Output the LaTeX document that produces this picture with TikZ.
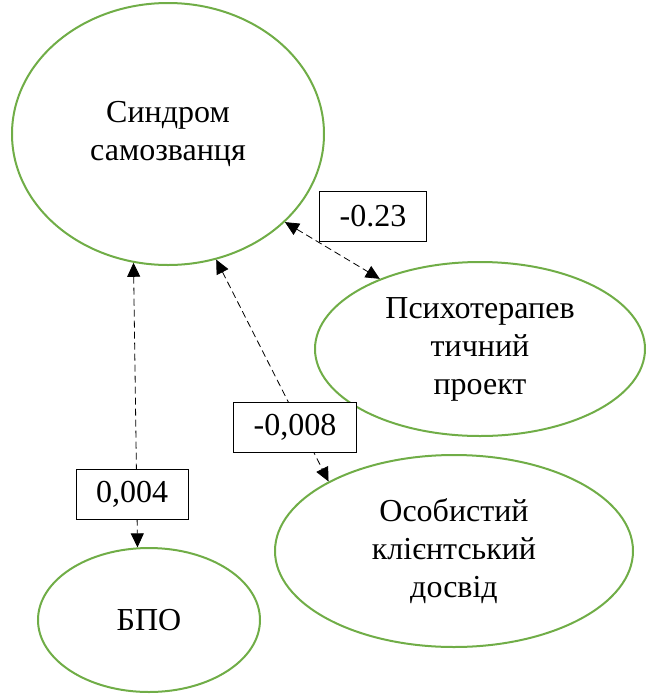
\documentclass[tikz,border=0pt]{standalone}
\usepackage{fontspec}
\setmainfont{Liberation Serif}
\usetikzlibrary{shapes.geometric,arrows.meta}
\definecolor{factorgreen}{RGB}{112,173,71}

\begin{document}
\begin{tikzpicture}[x=1pt,y=-1pt,
  factor/.style={ellipse,draw=factorgreen,line width=2pt,inner sep=0pt,align=center,font=\fontsize{32}{38}\selectfont},
  coef/.style={draw,fill=white,line width=0.8pt,inner xsep=20pt,minimum height=50pt,font=\fontsize{32}{36}\selectfont},
  link/.style={dash pattern=on 7pt off 4pt,line width=0.8pt,{Triangle[length=14pt,width=13pt]}-{Triangle[length=14pt,width=13pt]}}]
  \useasboundingbox (0,0) rectangle (654,694);

  \node[factor,minimum width=312pt,minimum height=262pt] (syn) at (168,134) {Синдром\\самозванця};
  \node[factor,minimum width=330pt,minimum height=174pt] (psy) at (480,349) {Психотерапев\\тичний\\проект};
  \node[factor,minimum width=358pt,minimum height=192pt] (oso) at (454,551) {Особистий\\клієнтський\\досвід};
  \node[factor,minimum width=222pt,minimum height=144pt] (bpo) at (149,620) {БПО};

  \draw[link] (syn.-37) -- (psy.145);
  \draw[link] (syn.255) -- (bpo.99);
  \draw[link] (syn.-69) -- (oso.151);

  \node[coef] (k1) at (373,216) {-0.23};
  \node[coef] (k2) at (132,494) {0,004};
  \node[coef] (k3) at (295,427) {-0,008};
\end{tikzpicture}
\end{document}
